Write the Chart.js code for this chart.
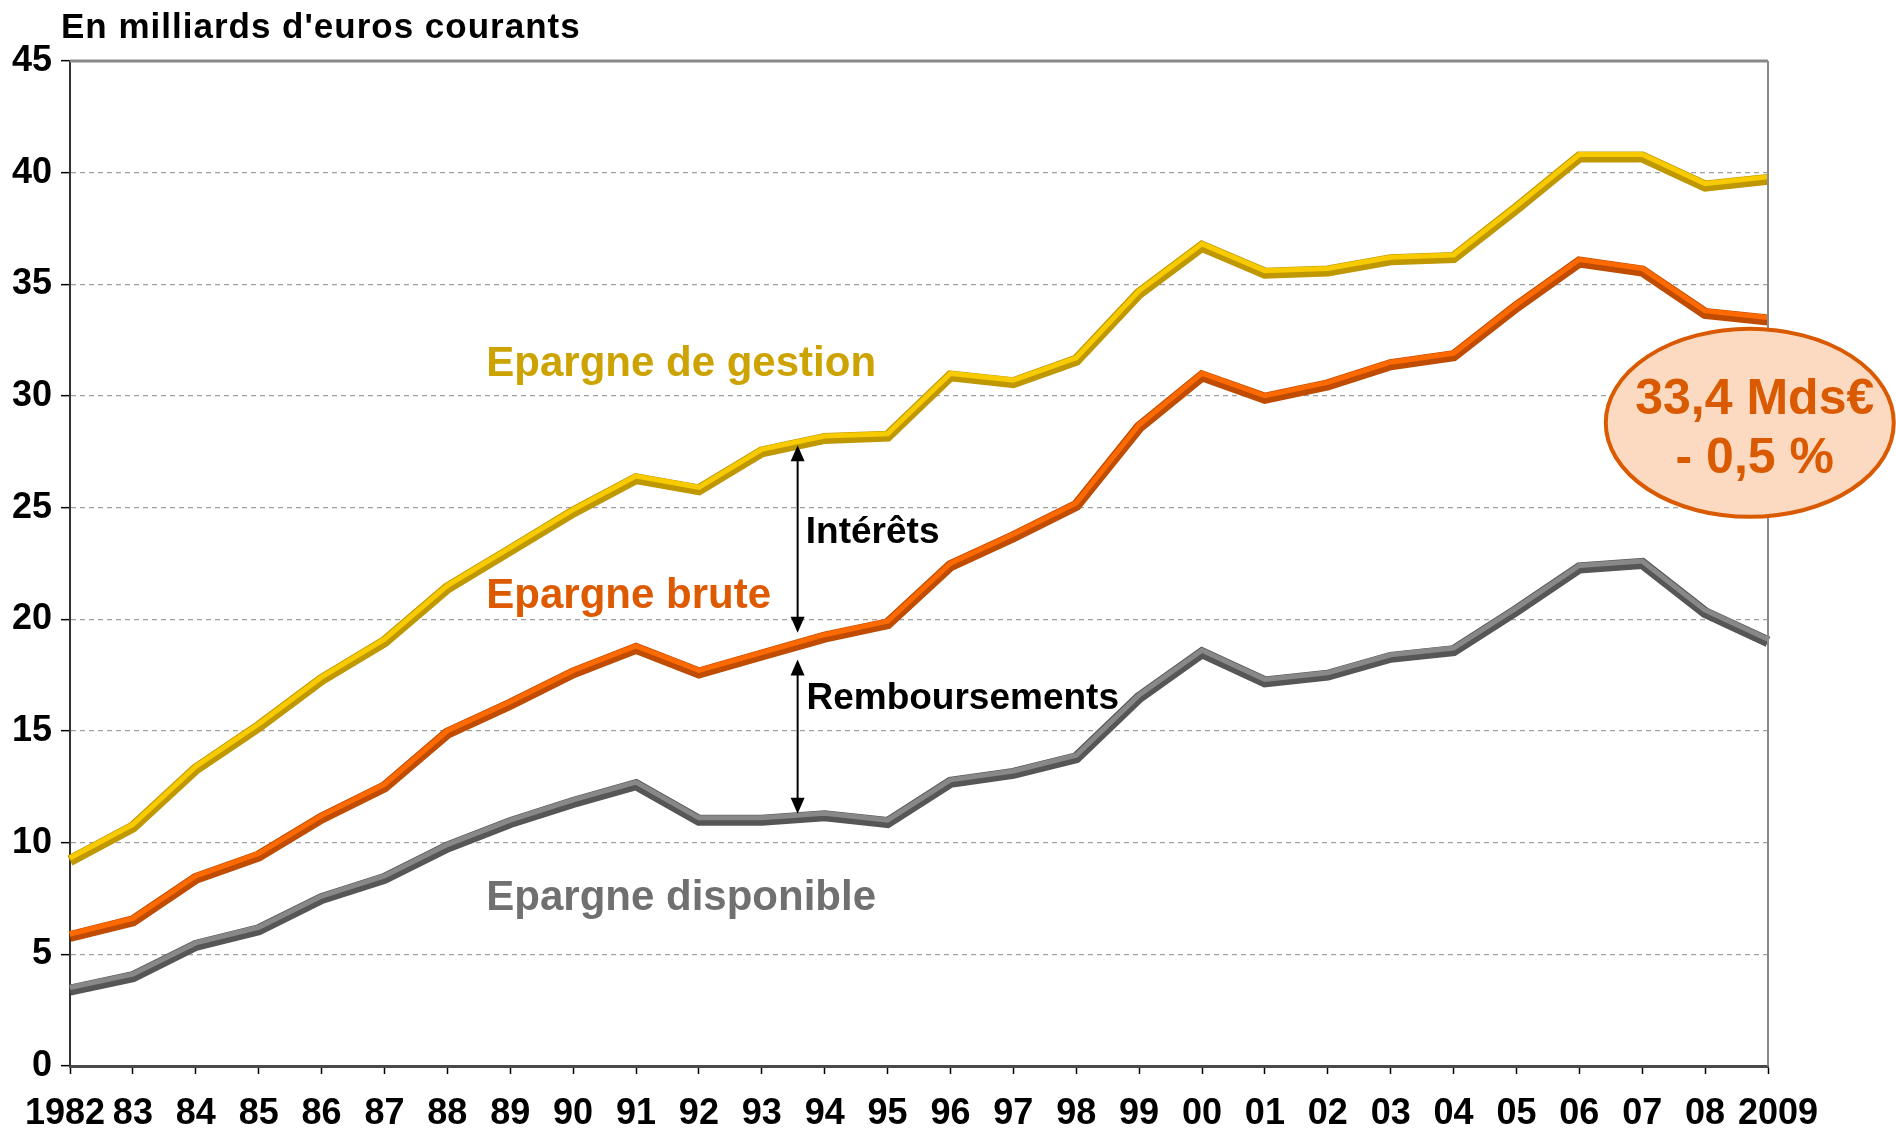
<!DOCTYPE html>
<html>
<head>
<meta charset="utf-8">
<script src="https://cdn.jsdelivr.net/npm/chart.js@4.4.1/dist/chart.umd.min.js"></script>
<style>
  body { margin: 0; background: #fff; }
  canvas { display: block; }
</style>
</head>
<body>
<canvas id="epargneChart" width="1896" height="1132"></canvas>
<script>
// data
const years = ['1982', '83', '84', '85', '86', '87', '88', '89', '90', '91', '92', '93', '94', '95',
  '96', '97', '98', '99', '00', '01', '02', '03', '04', '05', '06', '07', '08', '2009'];
const epargneGestion = [9.2, 10.7, 13.3, 15.2, 17.3, 19.0, 21.4, 23.1, 24.8, 26.3, 25.8, 27.5, 28.1, 28.2,
  30.9, 30.6, 31.6, 34.6, 36.7, 35.5, 35.6, 36.1, 36.2, 38.4, 40.7, 40.7, 39.4, 39.7];
const epargneBrute = [5.8, 6.5, 8.4, 9.4, 11.1, 12.5, 14.9, 16.2, 17.6, 18.7, 17.6, 18.4, 19.2, 19.8,
  22.4, 23.7, 25.1, 28.6, 30.9, 29.9, 30.5, 31.4, 31.8, 34.0, 36.0, 35.6, 33.7, 33.4];
const epargneDisponible = [3.4, 4.0, 5.4, 6.1, 7.5, 8.4, 9.8, 10.9, 11.8, 12.6, 11.0, 11.0, 11.2, 10.9,
  12.7, 13.1, 13.8, 16.5, 18.5, 17.2, 17.5, 18.3, 18.6, 20.4, 22.3, 22.5, 20.3, 19.0];

const FONT = "'Liberation Sans', Arial, sans-serif";

// text annotations, placed in data units (x = category index, y = value)
const seriesLabels = [
  { text: 'Epargne de gestion', x: 6.62, y: 30.9, color: '#CCA300', size: 42 },
  { text: 'Epargne brute', x: 6.62, y: 20.5, color: '#DD5A00', size: 42 },
  { text: 'Epargne disponible', x: 6.62, y: 7.0, color: '#707070', size: 42 },
  { text: 'Intérêts', x: 11.7, y: 23.4, color: '#000', size: 37 },
  { text: 'Remboursements', x: 11.71, y: 16.0, color: '#000', size: 37 }
];
const arrows = [
  { x: 11.57, from: 27.8, to: 19.4 },
  { x: 11.57, from: 18.2, to: 11.3 }
];
const highlights = ['#F7CB00', '#FF6A00', '#888888'];

const decorPlugin = {
  id: 'decor',
  afterDatasetsDraw(chart) {
    // light top edge on each line for the raised look
    const ctx = chart.ctx;
    ctx.save();
    chart.data.datasets.forEach((ds, i) => {
      const pts = chart.getDatasetMeta(i).data;
      ctx.beginPath();
      pts.forEach((p, j) => j ? ctx.lineTo(p.x, p.y - 2.5) : ctx.moveTo(p.x, p.y - 2.5));
      ctx.strokeStyle = highlights[i];
      ctx.lineWidth = 5;
      ctx.lineJoin = 'miter';
      ctx.stroke();
    });
    ctx.restore();
  },
  afterDraw(chart) {
    const ctx = chart.ctx;
    const xs = chart.scales.x, ys = chart.scales.y;
    const area = chart.chartArea;
    ctx.save();

    // top and right frame
    ctx.strokeStyle = '#8a8a8a';
    ctx.lineWidth = 3;
    ctx.beginPath();
    ctx.moveTo(area.left, area.top);
    ctx.lineTo(area.right, area.top);
    ctx.stroke();
    ctx.lineWidth = 2;
    ctx.beginPath();
    ctx.moveTo(area.right, area.top);
    ctx.lineTo(area.right, area.bottom);
    ctx.stroke();

    // title
    ctx.fillStyle = '#000';
    ctx.font = 'bold 35px ' + FONT;
    ctx.letterSpacing = '1px';
    ctx.textAlign = 'left';
    ctx.textBaseline = 'alphabetic';
    ctx.fillText("En milliards d'euros courants", 61, 38);
    ctx.letterSpacing = '0px';

    // series labels
    seriesLabels.forEach(l => {
      ctx.fillStyle = l.color;
      ctx.font = 'bold ' + l.size + 'px ' + FONT;
      ctx.fillText(l.text, xs.getPixelForValue(l.x), ys.getPixelForValue(l.y));
    });

    // double arrows
    ctx.strokeStyle = '#000';
    ctx.fillStyle = '#000';
    ctx.lineWidth = 2;
    arrows.forEach(a => {
      const x = xs.getPixelForValue(a.x);
      const y1 = ys.getPixelForValue(a.from), y2 = ys.getPixelForValue(a.to);
      ctx.beginPath();
      ctx.moveTo(x, y1 + 10);
      ctx.lineTo(x, y2 - 10);
      ctx.stroke();
      [[y1, 1], [y2, -1]].forEach(([y, d]) => {
        ctx.beginPath();
        ctx.moveTo(x, y);
        ctx.lineTo(x - 7, y + d * 16);
        ctx.lineTo(x + 7, y + d * 16);
        ctx.closePath();
        ctx.fill();
      });
    });

    // callout ellipse
    const cx = xs.getPixelForValue(26.71), cy = ys.getPixelForValue(28.8);
    ctx.beginPath();
    ctx.ellipse(cx, cy, 144, 94, 0, 0, Math.PI * 2);
    ctx.fillStyle = '#FCDAC2';
    ctx.fill();
    ctx.lineWidth = 4;
    ctx.strokeStyle = '#D95A00';
    ctx.stroke();
    ctx.fillStyle = '#D95A00';
    ctx.font = 'bold 50px ' + FONT;
    ctx.textAlign = 'center';
    ctx.fillText('33,4 Mds€', cx + 5, cy - 9);
    ctx.fillText('- 0,5 %', cx + 5, cy + 50);
    ctx.restore();
  }
};

const chart = new Chart(document.getElementById('epargneChart'), {
  type: 'line',
  data: {
    labels: years,
    datasets: [{
      label: 'Epargne de gestion',
      data: epargneGestion,
      borderColor: '#BF9700',
      borderWidth: 11
    }, {
      label: 'Epargne brute',
      data: epargneBrute,
      borderColor: '#BF4C00',
      borderWidth: 11
    }, {
      label: 'Epargne disponible',
      data: epargneDisponible,
      borderColor: '#565656',
      borderWidth: 11
    }]
  },
  options: {
    responsive: false,
    animation: false,
    devicePixelRatio: 1,
    events: [],
    layout: { padding: { top: 61, right: 128, left: 0, bottom: 0 } },
    elements: { point: { radius: 0 }, line: { tension: 0, borderJoinStyle: 'miter' } },
    plugins: { legend: { display: false }, tooltip: { enabled: false } },
    scales: {
      x: {
        offset: false,
        grid: { drawOnChartArea: false, drawTicks: true, tickLength: 8, tickColor: '#000', tickWidth: 1.5 },
        border: { color: '#4a4a4a', width: 3 },
        ticks: {
          color: '#000', padding: 18, maxRotation: 0, autoSkip: false,
          font: { family: FONT, size: 36, weight: 'bold' },
          // nudge the first and last year outward like the original
          callback(value, index) {
            const l = years[index];
            if (index === 0) return l + ' ';
            if (index === years.length - 1) return '  ' + l;
            return l;
          }
        },
        afterFit(scale) { scale.height = 66; }
      },
      y: {
        min: 0,
        max: 45,
        grid: { color: '#a0a0a0', lineWidth: 1.3, tickLength: 9, tickColor: '#000', tickWidth: 1.5 },
        border: { color: '#333', width: 2, dash: [5, 4] },
        ticks: {
          stepSize: 5, color: '#000', padding: 9,
          font: { family: FONT, size: 36, weight: 'bold' }
        },
        afterFit(scale) { scale.width = 70; }
      }
    }
  },
  plugins: [decorPlugin]
});
</script>
</body>
</html>
